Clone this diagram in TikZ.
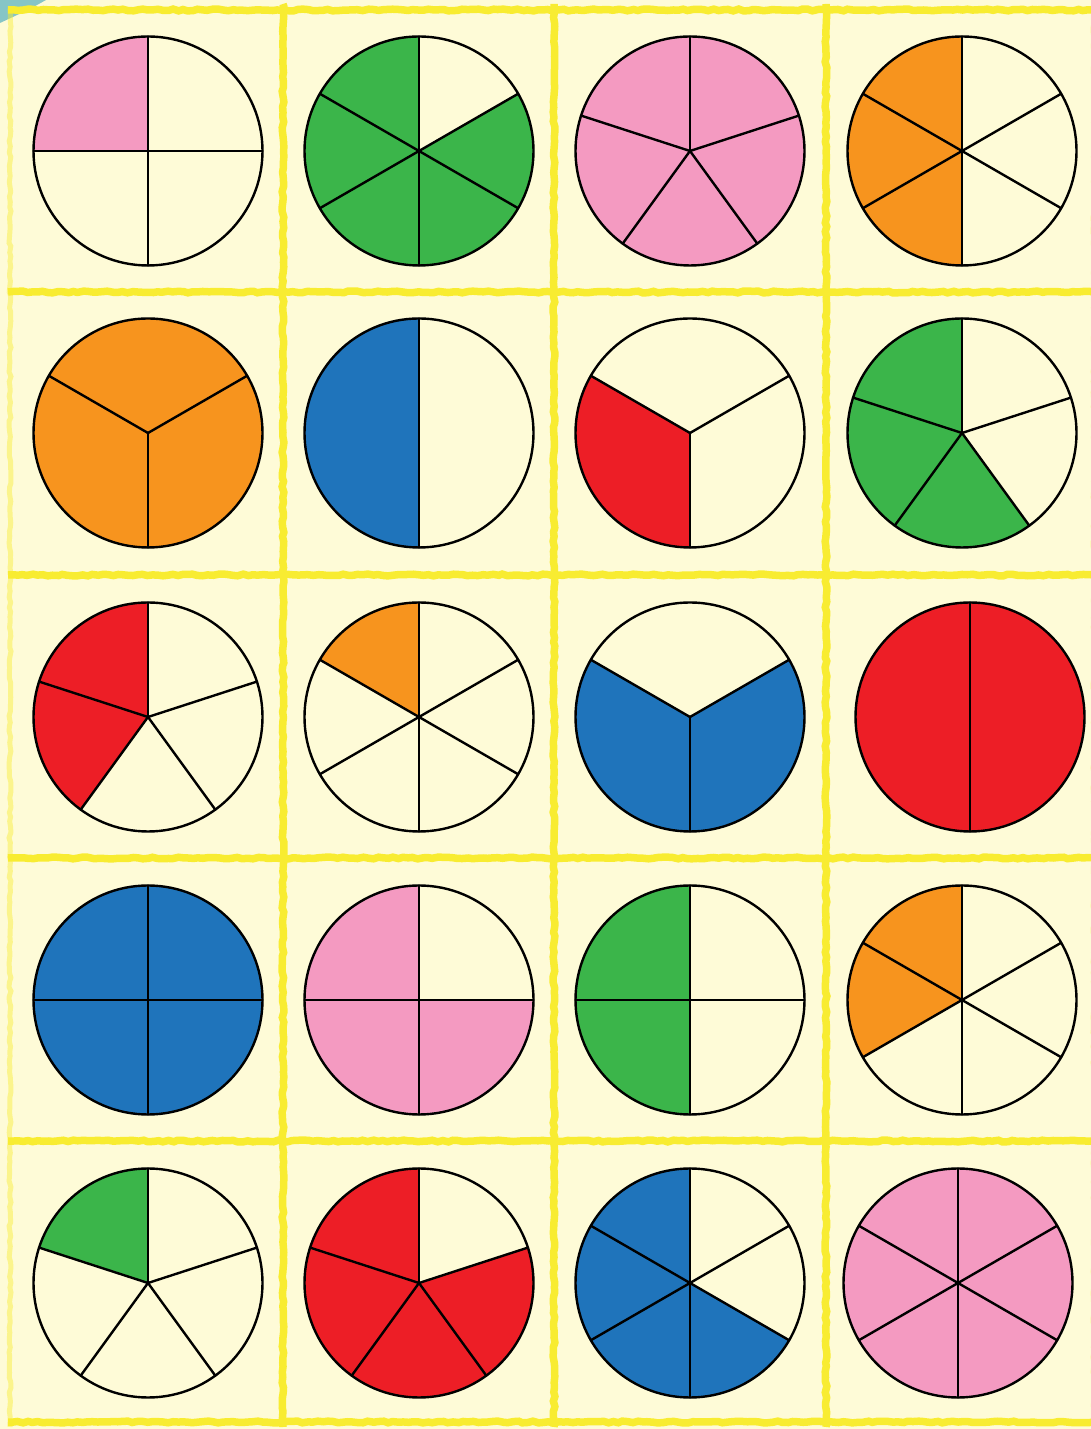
\documentclass[tikz,border=0pt]{standalone}
\usetikzlibrary{decorations.pathmorphing}
\definecolor{cream}{HTML}{FEFBD7}
\definecolor{frameyellow}{HTML}{F8EC31}
\definecolor{teal}{HTML}{86C5C6}
\definecolor{cpink}{HTML}{F49AC1}
\definecolor{cgreen}{HTML}{3BB54A}
\definecolor{corange}{HTML}{F7941E}
\definecolor{cblue}{HTML}{1F74BB}
\definecolor{cred}{HTML}{ED1E26}
\tikzset{
  pieline/.style={draw=black,line width=2.4pt,line cap=round},
  frameline/.style={draw=frameyellow,line width=7.5pt,
    decorate,decoration={random steps,segment length=5pt,amplitude=0.9pt}},
  faintframe/.style={draw=frameyellow,line width=5pt,opacity=0.45,
    decorate,decoration={random steps,segment length=5pt,amplitude=1pt}},
}
\newcommand\mypie[6]{%
  % #1 x, #2 y, #3 parts, #4 start angle, #5 filled parts, #6 colour
  \pgfmathsetmacro\pieang{360/#3}%
  \pgfmathsetmacro\pieend{#4+#5*\pieang}%
  \coordinate (pc) at (#1,#2);
  \ifnum#5=#3\relax
    \fill[#6] (pc) circle[radius=114.5];
  \else
    \fill[#6] (pc) -- ++(#4:114.5) arc[start angle=#4,end angle=\pieend,radius=114.5] -- cycle;
  \fi
  \ifnum#3>1\relax
  \foreach \pi in {1,...,#3}{%
    \draw[pieline] (pc) -- ++({#4+(\pi-1)*\pieang}:114.5);
  }\fi
  \draw[pieline] (pc) circle[radius=114.5];
}
\begin{document}
\begin{tikzpicture}[x=1pt,y=1pt]
\useasboundingbox (0,0) rectangle (1091,1429);
\clip (0,0) rectangle (1091,1429);
\fill[cream] (0,0) rectangle (1091,1429);
\fill[teal] (0,1429) -- (46,1429) .. controls (30,1420) .. (0,1406) -- cycle;
\pgfmathsetseed{7}
% frame lines
\foreach \yy in {1419,1137,854,571,288,7}{
  \draw[frameline] (8,\yy) -- (1095,\yy);
}
\foreach \xx in {283,554,826}{
  \draw[frameline] (\xx,2) -- (\xx,1425);
}
\draw[faintframe] (10,2) -- (10,1420);
\draw[faintframe] (1094,2) -- (1094,1420);
% row 1
\mypie{148}{1278}{4}{90}{1}{cpink}
\mypie{419}{1278}{6}{90}{5}{cgreen}
\mypie{690}{1278}{5}{90}{5}{cpink}
\mypie{962}{1278}{6}{90}{3}{corange}
% row 2
\mypie{148}{996}{3}{150}{3}{corange}
\mypie{419}{996}{2}{90}{1}{cblue}
\mypie{690}{996}{3}{150}{1}{cred}
\mypie{962}{996}{5}{90}{3}{cgreen}
% row 3
\mypie{148}{712}{5}{90}{2}{cred}
\mypie{419}{712}{6}{90}{1}{corange}
\mypie{690}{712}{3}{150}{2}{cblue}
\mypie{970}{712}{2}{90}{2}{cred}
% row 4
\mypie{148}{429}{4}{90}{4}{cblue}
\mypie{419}{429}{4}{90}{3}{cpink}
\mypie{690}{429}{4}{90}{2}{cgreen}
\mypie{962}{429}{6}{90}{2}{corange}
% row 5
\mypie{148}{146}{5}{90}{1}{cgreen}
\mypie{419}{146}{5}{90}{4}{cred}
\mypie{690}{146}{6}{90}{4}{cblue}
\mypie{958}{146}{6}{90}{6}{cpink}
\end{tikzpicture}
\end{document}
